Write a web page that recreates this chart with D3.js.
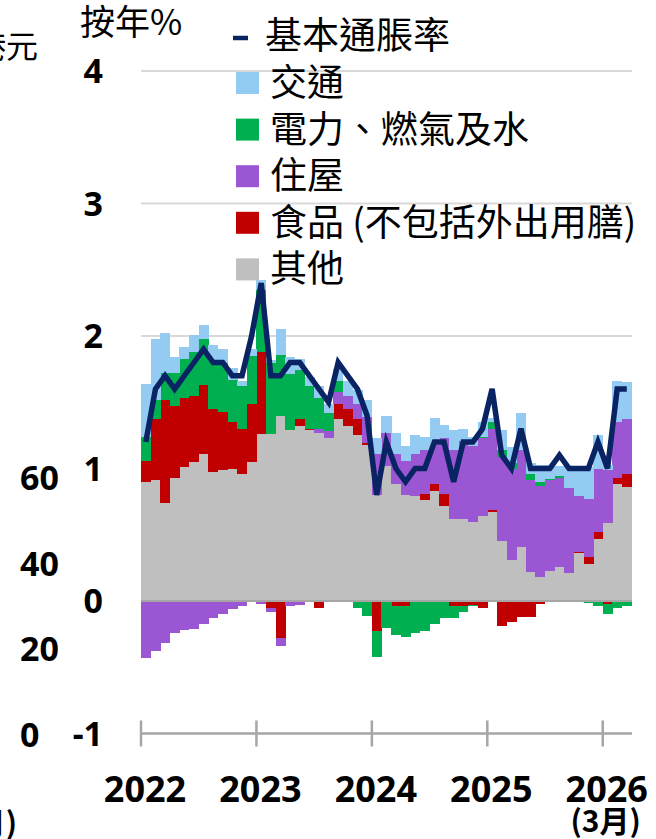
<!DOCTYPE html>
<html><head><meta charset="utf-8">
<script src="https://cdn.jsdelivr.net/npm/d3@7"></script>
<style>body{margin:0;background:#fff}svg{display:block}</style>
</head><body>
<svg id="c" width="656" height="839"></svg>
<script>
const months = ["2022-01","2022-02","2022-03","2022-04","2022-05","2022-06","2022-07","2022-08","2022-09","2022-10","2022-11","2022-12",
"2023-01","2023-02","2023-03","2023-04","2023-05","2023-06","2023-07","2023-08","2023-09","2023-10","2023-11","2023-12",
"2024-01","2024-02","2024-03","2024-04","2024-05","2024-06","2024-07","2024-08","2024-09","2024-10","2024-11","2024-12",
"2025-01","2025-02","2025-03","2025-04","2025-05","2025-06","2025-07","2025-08","2025-09","2025-10","2025-11","2025-12",
"2026-01","2026-02","2026-03"];
const other = [0.90,0.91,0.74,0.93,1.01,1.05,1.11,0.97,0.99,1.00,0.96,1.05,
 1.26,1.26,1.40,1.29,1.32,1.29,1.27,1.23,1.37,1.32,1.25,1.18,
 0.80,1.02,0.88,0.80,0.79,0.76,0.83,0.72,0.62,0.62,0.60,0.64,
 0.67,0.455,0.31,0.41,0.22,0.18,0.23,0.26,0.21,0.36,0.28,0.47,
 0.59,0.88,0.86];
const food = [0.16,0.46,0.78,0.54,0.52,0.50,0.52,0.48,0.44,0.35,0.34,0.44,
 0.62,-0.055,-0.28,0,0.05,0.01,-0.05,-0.01,0.12,0.13,0.12,0.01,
 -0.23,0,-0.04,-0.04,0,0.05,0.05,0.09,-0.04,-0.04,-0.03,-0.05,
 0.02,-0.19,-0.16,-0.12,-0.12,-0.025,-0.01,-0.01,0,0.01,0.05,0.05,
 -0.025,0.05,0.10];
const housing = [-0.43,-0.38,-0.32,-0.24,-0.22,-0.21,-0.17,-0.13,-0.10,-0.06,-0.035,-0.01,
 -0.02,-0.025,-0.06,-0.04,-0.03,0,0.03,0.05,0.09,0.10,0.12,0.20,
 0.31,0.25,0.23,0.26,0.32,0.33,0.30,0.42,0.52,0.59,0.57,0.59,
 0.61,0.635,0.69,0.73,0.69,0.69,0.68,0.67,0.64,0.42,0.44,0.48,
 0.40,0.42,0.41];
const energy = [0.18,0.15,0.20,0.25,0.30,0.33,0.35,0.36,0.37,0.32,0.32,0.36,
 0.47,0.54,0.46,0.42,0.37,0.32,0.23,0.14,0.08,0,-0.05,-0.11,
 -0.19,-0.20,-0.22,-0.23,-0.24,-0.23,-0.17,-0.13,-0.09,-0.04,-0.01,0.01,
 0.05,0.05,0.04,0,0.05,0.03,0.01,0.01,0,-0.01,-0.015,-0.035,
 -0.075,-0.05,-0.035];
const transport = [0.40,0.46,0.30,0.12,0.09,0.13,0.10,0.12,0.10,0.09,0.04,0.05,
 0.07,0.02,0.19,0.13,0.09,0.07,0.09,0.07,0.09,0.11,0.10,0.13,
 0.12,0.13,0.16,0.11,0.14,0.10,0.20,0.10,0.15,0.09,0.07,0.11,
 0.03,0.15,0.12,0.28,0.08,0.13,0.11,0.08,0.16,0.22,0.24,0.25,
 0.04,0.31,0.28];
const core = [1.2,1.6,1.7,1.6,1.7,1.8,1.9,1.8,1.8,1.7,1.7,2.0,
 2.4,1.7,1.7,1.8,1.8,1.7,1.6,1.5,1.8,1.7,1.6,1.4,
 0.8,1.2,1.0,0.9,1.0,1.0,1.2,1.2,0.9,1.2,1.2,1.3,
 1.6,1.1,1.0,1.3,1.0,1.0,1.0,1.1,1.0,1.0,1.0,1.2,
 1.0,1.6,1.6];
const yTicks = [-1,0,1,2,3,4];
const yearTicks = ["2022-01","2023-01","2024-01","2025-01","2026-01"];
const yearLabels = ["2022","2023","2024","2025","2026"];
const lineName = "基本通脹率";
const seriesKeys = ["other","food","housing","energy","transport"];
const seriesNames = {other:"其他",food:"食品 (不包括外出用膳)",housing:"住屋",energy:"電力、燃氣及水",transport:"交通"};
const legendOrder = ["transport","energy","housing","food","other"];
const colors = {other:"#BFBFBF",food:"#C00000",housing:"#9B57D3",energy:"#00B050",transport:"#93CBF3"};
const leftAxisLabels = ["60","40","20","0"];

const svg = d3.select("#c");
const x = d3.scaleBand().domain(months).range([141, 631.6]).padding(0);
const y = d3.scaleLinear().domain([-1, 4]).range([733.5, 71]);
const table = months.map((m, i) => ({month: m, other: other[i], food: food[i], housing: housing[i], energy: energy[i], transport: transport[i]}));
const stacked = d3.stack().keys(seriesKeys).offset(d3.stackOffsetDiverging)(table);

const numFont = "'Noto Sans','Liberation Sans',sans-serif";
const cjkFont = "'Noto Sans CJK TC','Noto Sans',sans-serif";

// gridlines
svg.append("g").selectAll("line").data(yTicks.filter(t => t > 0)).join("line")
  .attr("x1", 141).attr("x2", 632).attr("y1", d => y(d)).attr("y2", d => y(d))
  .attr("stroke", "#D9D9D9").attr("stroke-width", 2);

// bars
svg.append("g").selectAll("g").data(stacked).join("g")
  .attr("fill", s => colors[s.key])
  .selectAll("rect").data(s => s.map(d => ({d, m: d.data.month}))).join("rect")
  .attr("x", p => x(p.m)).attr("width", x.bandwidth() + 0.4)
  .attr("y", p => y(Math.max(p.d[0], p.d[1])))
  .attr("height", p => Math.abs(y(p.d[0]) - y(p.d[1])))
  .attr("shape-rendering", "crispEdges");

// zero line
svg.append("line").attr("x1", 141).attr("x2", 632).attr("y1", y(0)).attr("y2", y(0))
  .attr("stroke", "#A6A6A6").attr("stroke-width", 2);

// x axis
const xAxis = d3.axisBottom(x).tickValues(yearTicks).tickSize(13).tickFormat("");
const gx = svg.append("g").attr("transform", `translate(0,${y(-1)})`).call(xAxis);
gx.select(".domain").remove();
gx.selectAll(".tick line").attr("transform", `translate(${-x.bandwidth()/2},-13)`).attr("y2", 26)
  .attr("stroke", "#A6A6A6").attr("stroke-width", 2.5);
svg.append("line").attr("x1", 141).attr("x2", 632).attr("y1", y(-1)).attr("y2", y(-1))
  .attr("stroke", "#A6A6A6").attr("stroke-width", 2.5);

// line
svg.append("path").datum(core)
  .attr("d", d3.line().x((v, i) => x(months[i]) + x.bandwidth()/2).y(v => y(v)))
  .attr("fill", "none").attr("stroke", "#0A2463").attr("stroke-width", 5.5);

// y tick labels
svg.append("g").selectAll("text").data(yTicks).join("text")
  .attr("x", 103).attr("y", d => y(d) + 12).attr("text-anchor", "end")
  .attr("font-family", numFont).attr("font-weight", 700).attr("font-size", 34)
  .text(d => d);

// x labels
svg.append("g").selectAll("text").data(yearTicks).join("text")
  .attr("x", d => x(d) + 4).attr("y", 802).attr("text-anchor", "middle")
  .attr("font-family", numFont).attr("font-weight", 700).attr("font-size", 36)
  .text((d, i) => yearLabels[i]);
svg.append("text").attr("x", x(yearTicks[4]) + 3).attr("y", 832).attr("text-anchor", "middle")
  .attr("font-family", cjkFont).attr("font-weight", 700).attr("font-size", 30).text("(3月)");

// title
svg.append("text").attr("x", 80).attr("y", 35).attr("font-family", cjkFont).attr("font-size", 35).text("按年%");

// legend
const lg = svg.append("g");
lg.append("line").attr("x1", 233).attr("x2", 248).attr("y1", 38).attr("y2", 38)
  .attr("stroke", "#0A2463").attr("stroke-width", 4.5);
lg.append("text").attr("x", 265).attr("y", 49).attr("font-family", cjkFont).attr("font-size", 37).text(lineName);
legendOrder.forEach((k, i) => {
  const cy = 83 + i * 46.6;
  lg.append("rect").attr("x", 236).attr("y", cy - 11).attr("width", 23).attr("height", 22).attr("fill", colors[k]);
  lg.append("text").attr("x", 270).attr("y", cy + 13).attr("font-family", cjkFont).attr("font-size", 37).text(seriesNames[k]);
});

// cropped neighbour-chart remnants on the left
svg.append("text").attr("x", 38).attr("y", 58).attr("text-anchor", "end")
  .attr("font-family", cjkFont).attr("font-size", 32).text("港元");
svg.append("g").selectAll("text").data(leftAxisLabels).join("text")
  .attr("x", 20).attr("y", (d, i) => 490 + i * 85.7)
  .attr("font-family", numFont).attr("font-weight", 700).attr("font-size", 34).text(d => d);
svg.append("text").attr("x", 17).attr("y", 834).attr("text-anchor", "end")
  .attr("font-family", cjkFont).attr("font-weight", 700).attr("font-size", 30).text("(3月)");
</script>
</body></html>
